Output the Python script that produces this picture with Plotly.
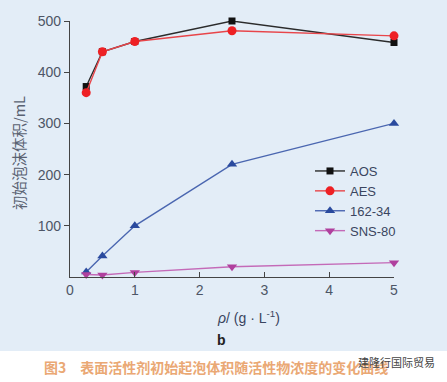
import plotly.graph_objects as go

conc = [0.25, 0.5, 1, 2.5, 5]
aos = [372, 440, 460, 500, 458]
aes = [360, 440, 460, 481, 471]
s162 = [10, 41, 100, 220, 300]
sns80 = [5, 4, 9, 20, 28]

series = [
    ("AOS", aos, "#2b2b2b", "#111111", "square", 7),
    ("AES", aes, "#e8454a", "#ee2024", "circle", 9),
    ("162-34", s162, "#4a66b0", "#2a4a9e", "triangle-up", 9),
    ("SNS-80", sns80, "#c46ab8", "#b0409e", "triangle-down", 9),
]

fig = go.Figure()
for name, ys, lc, mc, sym, sz in series:
    fig.add_trace(go.Scatter(
        x=conc, y=ys, name=name, mode="lines+markers",
        line=dict(color=lc, width=1.4),
        marker=dict(color=mc, symbol=sym, size=sz),
        cliponaxis=False,
    ))

W, H = 447, 382
L, R, T, B = 70, 53, 21, 105
pw, ph = W - L - R, H - T - B

def px(x):
    return (x - L) / pw

def py(y):
    return (H - B - y) / ph

bg = "#e3edf7"
tickc = "#4d5566"
fig.update_layout(
    width=W, height=H,
    margin=dict(l=L, r=R, t=T, b=B),
    paper_bgcolor="white", plot_bgcolor=bg,
    font=dict(family="Liberation Sans, Arial, sans-serif", size=14, color=tickc),
    showlegend=True,
    legend=dict(x=px(310), y=py(156), xanchor="left", yanchor="top",
                bgcolor="rgba(0,0,0,0)", font=dict(size=13, color="#3a4560"),
                tracegroupgap=0, itemwidth=30),
    shapes=[dict(type="rect", xref="paper", yref="paper", x0=px(0), x1=px(W),
                 y0=py(351), y1=py(0), fillcolor=bg, line=dict(width=0), layer="below")],
)
fig.update_xaxes(range=[0, 5], tickvals=[0, 1, 2, 3, 4, 5], ticks="inside", ticklen=5,
                 tickcolor="#444", showline=True, linecolor="#444", linewidth=1.2,
                 showgrid=False, zeroline=False, tickfont=dict(size=14, color=tickc))
fig.update_yaxes(range=[0, 500], tickvals=[100, 200, 300, 400, 500], ticks="outside", ticklen=5,
                 tickcolor="#444", showline=True, linecolor="#444", linewidth=1.2,
                 showgrid=False, zeroline=False, tickfont=dict(size=14, color=tickc))

anns = [
    dict(text="初始泡沫体积/mL", x=px(18), y=py(153), textangle=-90,
         font=dict(family="Noto Sans CJK SC", size=14.5, color="#5a6272")),
    dict(text="<i>ρ</i>/ (g · L<sup>-1</sup>)", x=px(248), y=py(317),
         font=dict(size=14, color="#3a4560")),
    dict(text="<b>b</b>", x=px(221), y=py(340), font=dict(size=14, color="#222")),
    dict(text="<b>图3　表面活性剂初始起泡体积随活性物浓度的变化曲线</b>", x=px(42), y=py(367),
         xanchor="left", font=dict(family="Noto Sans CJK SC", size=14, color="#eaa874")),
    dict(text="建隆行国际贸易", x=px(356), y=py(362), xanchor="left",
         font=dict(family="Noto Sans CJK SC", size=11, color="#444")),
]
for a in anns:
    a.setdefault("xanchor", "center")
    fig.add_annotation(xref="paper", yref="paper", showarrow=False, yanchor="middle", **a)

fig.write_html("out.html", config={"displayModeBar": False},
               post_script="document.body.style.margin='0';document.body.style.overflow='hidden';")
